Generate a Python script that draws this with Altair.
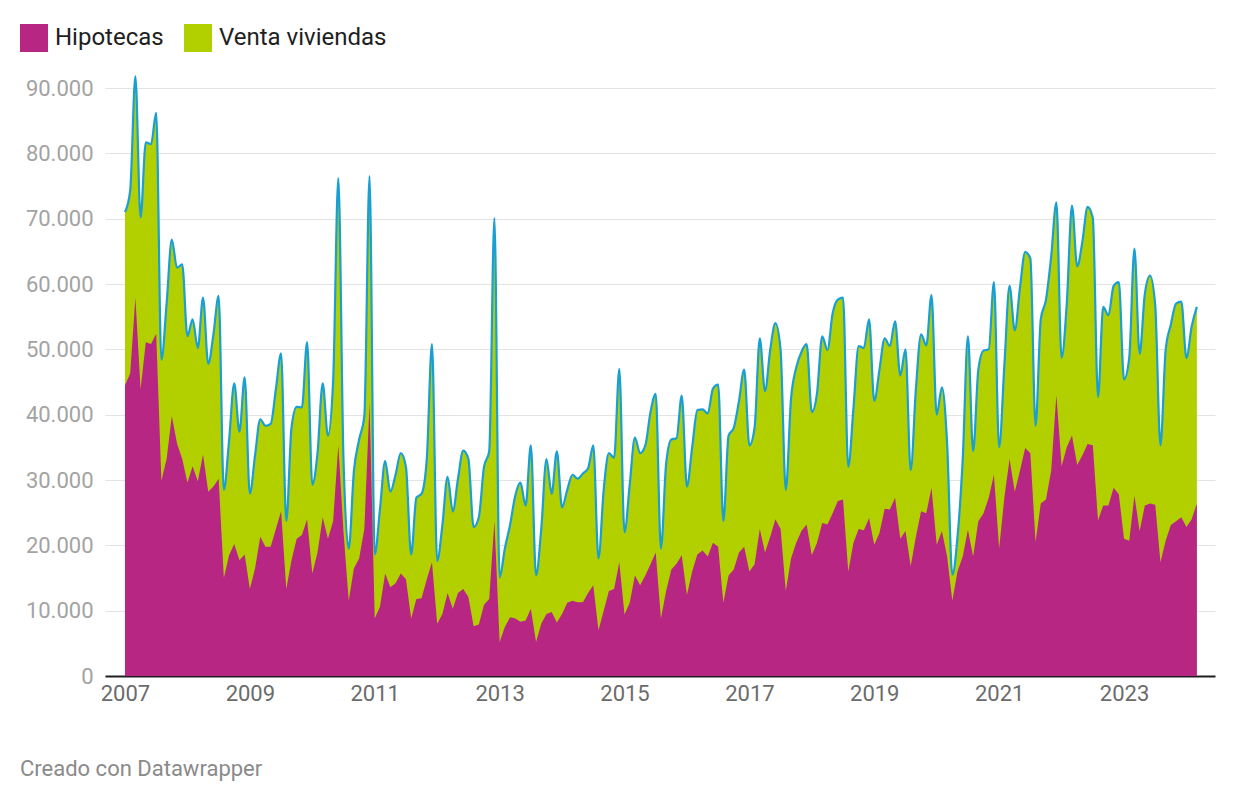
import altair as alt
import pandas as pd

start_year = 2007

# Monthly values, Jan 2007 - Mar 2024
venta = [
    71000, 74300, 91800, 70200, 81700, 81400, 86200, 48400, 57000, 66800, 62500, 63000,  # 2007
    52000, 54600, 50200, 57900, 47800, 52300, 58200, 28500, 36000, 44800, 37400, 45700,  # 2008
    27900, 33800, 39300, 38300, 38600, 43900, 49400, 23700, 38000, 41200, 41100, 51100,  # 2009
    29300, 34100, 44800, 36800, 45100, 76200, 33000, 19500, 31400, 36200, 39800, 76500,  # 2010
    18600, 25500, 32900, 28200, 30800, 34100, 32000, 18600, 27300, 27900, 33200, 50800,  # 2011
    17600, 23100, 30500, 25200, 30200, 34500, 33200, 22800, 24300, 32000, 34400, 70100,  # 2012
    15100, 19500, 23100, 27600, 29600, 26100, 35300, 15400, 22500, 33200, 27900, 34400,  # 2013
    25800, 28500, 30800, 30200, 31000, 31800, 35300, 18000, 28500, 34100, 33400, 47000,  # 2014
    22000, 29300, 36500, 34100, 35300, 40400, 43200, 19500, 32500, 36200, 36400, 42900,  # 2015
    29000, 35000, 40700, 40800, 40200, 44000, 44600, 23700, 36800, 38000, 42100, 46900,  # 2016
    35300, 38000, 51700, 43600, 49900, 54000, 49900, 28500, 42400, 47200, 49600, 50800,  # 2017
    40400, 43300, 52000, 49900, 55500, 57600, 57900, 32000, 41000, 50500, 50200, 54600,  # 2018
    42100, 46900, 51700, 50500, 54300, 46000, 50000, 31500, 43900, 52300, 50600, 58300,  # 2019
    40000, 44200, 35600, 15500, 21300, 33200, 52000, 34400, 46900, 49800, 50000, 60300,  # 2020
    35000, 47500, 59700, 52900, 59400, 64900, 63900, 38300, 54600, 57600, 64200, 72500,  # 2021
    48700, 57000, 72000, 62700, 66500, 71800, 70100, 42700, 56500, 55200, 59700, 60300,  # 2022
    45400, 48700, 65400, 49300, 58500, 61300, 56700, 35300, 49900, 53800, 57000, 57300,  # 2023
    48700, 53500, 56500,                                                                  # 2024
]

hipotecas = [
    44500, 46300, 57900, 43900, 51100, 50800, 52400, 29900, 33200, 39800, 35600, 33200,  # 2007
    29600, 32100, 29800, 33900, 28200, 29000, 30200, 15000, 18500, 20200, 17700, 18600,  # 2008
    13300, 16500, 21300, 19800, 19800, 22500, 25200, 13300, 17700, 21000, 21600, 24000,  # 2009
    15700, 18900, 24300, 21000, 23700, 35300, 22000, 11500, 16500, 18000, 22500, 41800,  # 2010
    8800, 10600, 15700, 13600, 14200, 15700, 14800, 8800, 11800, 11900, 14800, 17400,    # 2011
    8000, 9500, 12700, 10300, 12700, 13300, 12100, 7600, 7900, 10900, 11800, 23700,      # 2012
    5200, 7500, 9000, 8800, 8300, 8500, 10300, 5200, 8000, 9500, 9800, 8200,            # 2013
    9500, 11200, 11500, 11300, 11300, 12700, 13900, 7000, 10000, 13000, 13300, 17400,    # 2014
    9400, 11200, 15400, 13900, 15400, 17100, 18900, 8800, 13000, 16300, 17200, 18500,    # 2015
    12400, 16000, 18600, 19200, 18300, 20400, 19800, 11200, 15400, 16300, 18900, 19800,  # 2016
    16000, 17100, 22500, 18900, 21300, 24000, 22500, 13000, 18000, 20400, 22200, 23200,  # 2017
    18500, 20400, 23400, 23200, 24900, 26800, 27000, 16000, 20400, 22500, 22300, 24200,  # 2018
    20100, 21900, 25600, 25500, 27300, 21000, 22200, 16800, 21300, 25200, 24900, 28800,  # 2019
    20100, 22200, 18300, 11500, 16000, 18300, 22400, 18300, 23700, 24900, 27300, 30800,  # 2020
    19500, 27300, 33200, 28200, 31400, 34900, 34100, 20500, 26400, 27000, 31400, 43000,  # 2021
    32100, 35000, 36800, 32300, 33800, 35500, 35300, 23800, 26100, 26100, 28800, 27800,  # 2022
    21000, 20700, 27600, 22200, 26100, 26400, 26200, 17400, 20700, 23100, 23700, 24300,  # 2023
    22800, 24000, 26400,                                                                  # 2024
]

series = ["Hipotecas", "Venta viviendas"]
series_colors = ["#b72682", "#b2d000"]
line_color = "#1a9fd2"
tick_years = [2007, 2009, 2011, 2013, 2015, 2017, 2019, 2021, 2023]
y_ticks = [0, 10000, 20000, 30000, 40000, 50000, 60000, 70000, 80000, 90000]
footer = "Creado con Datawrapper"

n = len(venta)
t = [start_year + i / 12 for i in range(n)]
df = pd.DataFrame({
    "t": t + t,
    "serie": ["Venta viviendas"] * n + ["Hipotecas"] * n,
    "valor": venta + hipotecas,
})

x = alt.X(
    "t:Q",
    title=None,
    scale=alt.Scale(domain=[2006.68, 2024.457], nice=False, zero=False),
    axis=alt.Axis(
        values=tick_years, format="d", grid=False, ticks=False, tickSize=0,
        labelFlush=False, labelOverlap=False,
        domainColor="#1e1e1e", domainWidth=2,
        labelFontSize=22, labelColor="#6b6b6b", labelPadding=7, labelFont="Roboto",
    ),
)
y = alt.Y(
    "valor:Q",
    title=None,
    stack=None,
    scale=alt.Scale(domain=[0, 90000], nice=False),
    axis=alt.Axis(
        values=y_ticks,
        labelExpr="replace(format(datum.value, ','), ',', '.')",
        domain=False, ticks=False, tickSize=0,
        gridColor="#e3e3e3", gridWidth=1,
        labelFontSize=22, labelColor="#a3a3a3", labelPadding=12, labelFont="Roboto",
    ),
)
color = alt.Color(
    "serie:N",
    scale=alt.Scale(domain=series, range=series_colors),
    legend=alt.Legend(
        title=None, orient="none", legendX=-85, legendY=-64, direction="horizontal",
        symbolType="square", symbolSize=784, symbolStrokeWidth=0, symbolOpacity=1,
        labelFontSize=24, labelColor="#1e1e1e", labelOffset=7, columnPadding=20,
        labelLimit=0, padding=0, labelFont="Roboto",
    ),
)

base = alt.Chart(df)
venta_area = base.transform_filter("datum.serie == 'Venta viviendas'").mark_area(
    interpolate="monotone", opacity=1
).encode(x=x, y=y, color=color)
venta_line = base.transform_filter("datum.serie == 'Venta viviendas'").mark_line(
    interpolate="monotone", color=line_color, strokeWidth=2.2
).encode(x=x, y=y)
hip_area = base.transform_filter("datum.serie == 'Hipotecas'").mark_area(
    interpolate="linear", opacity=1
).encode(x=x, y=y, color=color)

chart = alt.layer(venta_area, venta_line, hip_area).properties(
    width=1110,
    height=588,
    autosize=alt.AutoSizeParams(type="none"),
    padding={"left": 97, "top": 80, "right": 17, "bottom": 110},
    title=alt.TitleParams(
        footer, orient="bottom", anchor="start", frame="bounds",
        fontSize=22, fontWeight="normal", color="#8a8a8a", font="Roboto", offset=55,
    ),
).configure(
    font="Roboto", background="white", view=alt.ViewConfig(stroke=None)
)

chart.save("out.html", embed_options={"renderer": "svg", "actions": False})
